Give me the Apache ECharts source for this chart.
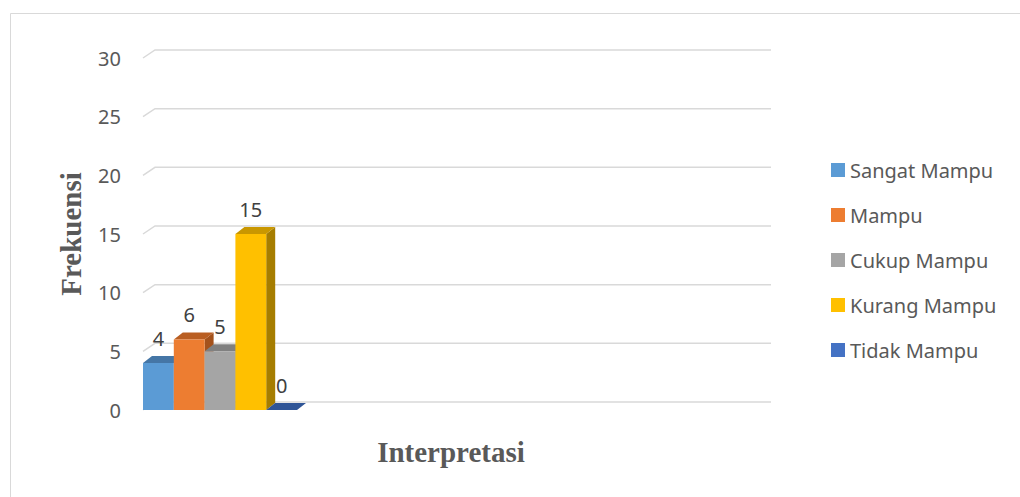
<!DOCTYPE html>
<html><head><meta charset="utf-8">
<script src="https://cdn.jsdelivr.net/npm/echarts@6/dist/echarts.min.js"></script>
<style>html,body{margin:0;padding:0;background:#fff}#c{width:1020px;height:497px}</style>
</head><body><div id="c"></div>
<script>
const categories = ['Sangat Mampu', 'Mampu', 'Cukup Mampu', 'Kurang Mampu', 'Tidak Mampu'];
const values = [4, 6, 5, 15, 0];
const frontColors = ['#5B9BD5', '#ED7D31', '#A5A5A5', '#FFC000', '#4472C4'];
const topColors = ['#4576A6', '#B95E22', '#808080', '#C99700', '#2F5597'];
const sideColors = ['#3B6791', '#A4521C', '#717171', '#A67D00', '#28487F'];
const yTicks = [0, 5, 10, 15, 20, 25, 30];
const xTitle = 'Interpretasi';
const yTitle = 'Frekuensi';

const DX = 9, DY = 7;     // bar depth
const WDX = 12, WDY = 8;  // back wall offset
const labelFont = '"Noto Sans", sans-serif';

const chart = echarts.init(document.getElementById('c'), null, {renderer: 'svg'});

const series = [];
series.push({
  type: 'custom',
  name: '__grid',
  z: 1,
  silent: true,
  data: yTicks.map(v => [0, v]),
  renderItem: function (params, api) {
    const cs = params.coordSys;
    const y = api.coord([0, api.value(1)])[1];
    const x0 = cs.x;
    return {
      type: 'polyline',
      shape: {points: [[x0, y], [x0 + WDX, y - WDY], [cs.x + cs.width + WDX, y - WDY]]},
      style: {stroke: '#D9D9D9', lineWidth: 1.5, fill: null}
    };
  }
});
categories.forEach((name, k) => {
  series.push({
    type: 'custom',
    name: name,
    z: 2 + k,
    itemStyle: {color: frontColors[k]},
    data: [[k, values[k]]],
    renderItem: function (params, api) {
      const i = api.value(0), v = api.value(1);
      const a = api.coord([i, 0]);
      const b = api.coord([i + 1, v]);
      const x0 = a[0], yb = a[1], x1 = b[0], yt = b[1];
      return {
        type: 'group',
        children: [
          {type: 'polygon', shape: {points: [[x1, yt], [x1 + DX, yt - DY], [x1 + DX, yb - DY], [x1, yb]]},
            style: {fill: sideColors[k]}},
          {type: 'polygon', shape: {points: [[x0, yt], [x0 + DX, yt - DY], [x1 + DX, yt - DY], [x1, yt]]},
            style: {fill: topColors[k]}},
          {type: 'rect', shape: {x: x0, y: yt, width: x1 - x0, height: yb - yt},
            style: {fill: frontColors[k]}},
          {type: 'text', x: (x0 + x1) / 2, y: yt - 25,
            style: {text: String(v), fill: '#404040', font: '20px ' + labelFont, align: 'center', verticalAlign: 'middle'}}
        ]
      };
    }
  });
});

chart.setOption({
  animation: false,
  backgroundColor: '#ffffff',
  graphic: [{
    type: 'rect', silent: true, z: -10,
    shape: {x: 10.5, y: 13.5, width: 1200, height: 700},
    style: {fill: null, stroke: '#D9D9D9', lineWidth: 1}
  }],
  grid: {left: 143, right: 261, top: 58, bottom: 87, containLabel: false},
  legend: {
    data: categories,
    orient: 'vertical',
    left: 826,
    top: 155,
    itemWidth: 14,
    itemHeight: 14,
    itemGap: 25,
    icon: 'rect',
    textStyle: {color: '#595959', fontSize: 20, fontFamily: labelFont}
  },
  xAxis: {
    type: 'value', min: 0, max: 20,
    axisLine: {show: false}, axisTick: {show: false}, axisLabel: {show: false}, splitLine: {show: false},
    name: xTitle, nameLocation: 'middle', nameGap: 27,
    nameTextStyle: {color: '#595959', fontSize: 29, fontWeight: 'bold', fontFamily: '"Liberation Serif", "Times New Roman", serif'}
  },
  yAxis: {
    type: 'value', min: 0, max: 30, interval: 5,
    axisLine: {show: false}, axisTick: {show: false}, splitLine: {show: false},
    axisLabel: {color: '#595959', fontSize: 20, fontFamily: labelFont, margin: 22},
    name: yTitle, nameLocation: 'middle', nameGap: 58,
    nameTextStyle: {color: '#595959', fontSize: 29, fontWeight: 'bold', fontFamily: '"Liberation Serif", "Times New Roman", serif'}
  },
  series: series
});
</script>
</body></html>
